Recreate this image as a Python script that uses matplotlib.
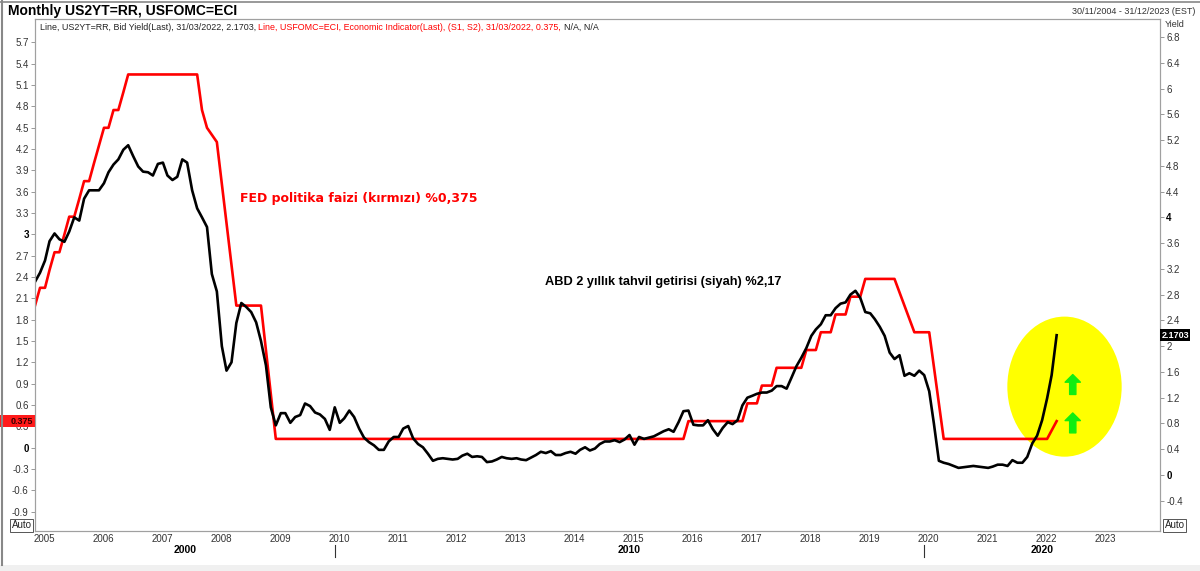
import numpy as np
import pandas as pd
import matplotlib
matplotlib.use("Agg")
import matplotlib.pyplot as plt
from matplotlib.patches import Ellipse, Rectangle
from matplotlib.offsetbox import TextArea, HPacker, AnnotationBbox
import matplotlib.transforms as mtransforms

plt.rcParams["font.family"] = ["Liberation Sans", "DejaVu Sans"]

# US 2Y yield, month-end, Nov 2004 .. Mar 2022 (right axis)
yield_2y = [
    3.00, 3.14, 3.33, 3.63, 3.75, 3.66, 3.62, 3.78, 4.00, 3.95, 4.29, 4.42,
    4.42, 4.42, 4.53, 4.70, 4.82, 4.90, 5.05, 5.12, 4.95, 4.79, 4.71, 4.70,
    4.65, 4.83, 4.85, 4.65, 4.58, 4.63, 4.90, 4.85, 4.42, 4.14, 4.00, 3.85,
    3.12, 2.85, 2.00, 1.62, 1.75, 2.36, 2.67, 2.61, 2.53, 2.37, 2.08, 1.70,
    1.05, 0.77, 0.96, 0.96, 0.81, 0.90, 0.93, 1.11, 1.07, 0.97, 0.94, 0.87,
    0.70, 1.05, 0.81, 0.88, 1.00, 0.90, 0.72, 0.58, 0.51, 0.46, 0.39, 0.39,
    0.52, 0.59, 0.59, 0.72, 0.76, 0.57, 0.48, 0.43, 0.33, 0.22, 0.25, 0.26,
    0.25, 0.24, 0.25, 0.30, 0.33, 0.28, 0.29, 0.28, 0.20, 0.21, 0.24, 0.28,
    0.26, 0.25, 0.26, 0.24, 0.23, 0.27, 0.31, 0.36, 0.34, 0.37, 0.31, 0.31,
    0.34, 0.36, 0.33, 0.39, 0.43, 0.38, 0.41, 0.48, 0.52, 0.52, 0.54, 0.51,
    0.55, 0.62, 0.47, 0.59, 0.56, 0.58, 0.60, 0.64, 0.68, 0.71, 0.67, 0.82,
    0.99, 1.00, 0.78, 0.77, 0.77, 0.85, 0.71, 0.61, 0.73, 0.82, 0.79, 0.85,
    1.08, 1.20, 1.23, 1.26, 1.28, 1.28, 1.31, 1.38, 1.38, 1.34, 1.51, 1.69,
    1.82, 1.97, 2.16, 2.26, 2.34, 2.48, 2.48, 2.59, 2.66, 2.68, 2.80, 2.86,
    2.75, 2.53, 2.51, 2.42, 2.30, 2.16, 1.90, 1.80, 1.86, 1.54, 1.58, 1.54,
    1.62, 1.55, 1.30, 0.80, 0.22, 0.19, 0.17, 0.14, 0.11, 0.12, 0.13, 0.14,
    0.13, 0.12, 0.11, 0.13, 0.16, 0.16, 0.14, 0.23, 0.19, 0.19, 0.28, 0.49,
    0.61, 0.85, 1.19, 1.55, 2.17,
]
yield_months = pd.date_range("2004-11-30", "2022-03-31", freq="ME")

# Fed policy rate (midpoint), turning points by month (left axis)
fed_months = [
    "2004-11", "2004-12", "2005-01", "2005-02", "2005-03", "2005-04", "2005-05",
    "2005-06", "2005-07", "2005-08", "2005-09", "2005-10", "2005-11", "2005-12",
    "2006-01", "2006-02", "2006-03", "2006-04", "2006-05", "2006-06", "2007-08",
    "2007-09", "2007-10", "2007-12", "2008-04", "2008-09", "2008-12", "2015-11",
    "2015-12", "2016-11", "2016-12", "2017-02", "2017-03", "2017-05", "2017-06",
    "2017-11", "2017-12", "2018-02", "2018-03", "2018-05", "2018-06", "2018-08",
    "2018-09", "2018-11", "2018-12", "2019-06", "2019-10", "2020-01", "2020-04",
    "2022-01", "2022-03",
]
fed_rate = [
    2.00, 2.25, 2.25, 2.50, 2.75, 2.75, 3.00,
    3.25, 3.25, 3.50, 3.75, 3.75, 4.00, 4.25,
    4.50, 4.50, 4.75, 4.75, 5.00, 5.25, 5.25,
    4.75, 4.50, 4.30, 2.00, 2.00, 0.125, 0.125,
    0.375, 0.375, 0.625, 0.625, 0.875, 0.875, 1.125,
    1.125, 1.375, 1.375, 1.625, 1.625, 1.875, 1.875,
    2.125, 2.125, 2.375, 2.375, 1.625, 1.625, 0.125,
    0.125, 0.375,
]

year_ticks = list(range(2005, 2024))
decade_labels = ["2000", "2010", "2020"]
decade_centers = [2007.46, 2015.0, 2022.0]
decade_edges = [2010, 2020]

left_ticks = np.round(np.arange(-0.9, 5.71, 0.3), 1)
right_ticks = np.round(np.arange(-0.4, 6.81, 0.4), 1)


def dec_year(d):
    d = pd.DatetimeIndex(d)
    return np.asarray(d.year + d.dayofyear / np.where(d.is_leap_year, 366.0, 365.0))


def fmt(v):
    s = f"{v:g}"
    return "0" if s == "-0" else s


yt = dec_year(yield_months)
ft = dec_year(pd.to_datetime(fed_months) + pd.offsets.MonthEnd(0))

fig = plt.figure(figsize=(12, 5.71), dpi=100)
fig.patch.set_facecolor("white")
ax1 = fig.add_axes([35 / 1200, 40 / 571, 1125 / 1200, 512 / 571])
ax2 = ax1.twinx()

ax1.set_xlim(2004.915, 2024.0)
ax1.set_ylim(-1.17, 6.03)
ax2.set_ylim(-0.87, 7.08)

# highlight
ax1.add_patch(Ellipse((2022.38, 0.86), 1.94, 1.97, facecolor="#ffff00",
                      edgecolor="none", zorder=1))
for y0, y1 in [(0.75, 1.03), (0.21, 0.49)]:
    ax1.annotate("", xy=(2022.52, y1), xytext=(2022.52, y0),
                 arrowprops=dict(arrowstyle="simple,head_length=0.55,head_width=1.1,tail_width=0.45",
                                 color="#11ee11", shrinkA=0, shrinkB=0),
                 zorder=3)

ax1.plot(ft, fed_rate, color="#ff0000", lw=1.9, zorder=2)
ax2.plot(yt, yield_2y, color="black", lw=1.9, zorder=2)

for ax in (ax1, ax2):
    for s in ax.spines.values():
        s.set_color("#a0a0a0")
        s.set_linewidth(0.8)

ax1.set_xticks([y + 0.07 for y in year_ticks])
ax1.set_xticklabels([str(y) for y in year_ticks], fontsize=7, color="#333333")
ax1.tick_params(axis="x", length=0, pad=2)

ax1.set_yticks(left_ticks)
ax1.set_yticklabels([fmt(v) for v in left_ticks], fontsize=7, color="#333333")
ax1.tick_params(axis="y", length=3, width=0.6, color="#888888", pad=1.5)
for lab, v in zip(ax1.get_yticklabels(), left_ticks):
    if v in (0.0, 3.0):
        lab.set_fontweight("bold")
        lab.set_color("black")

ax2.set_yticks(right_ticks)
ax2.set_yticklabels([fmt(v) for v in right_ticks], fontsize=7, color="#333333")
ax2.tick_params(axis="y", length=3, width=0.6, color="#888888", pad=1.5)
for lab, v in zip(ax2.get_yticklabels(), right_ticks):
    if v in (0.0, 4.0):
        lab.set_fontweight("bold")
        lab.set_color("black")

# decade row under the year labels
for lab, c in zip(decade_labels, decade_centers):
    ax1.text(c, -0.037, lab, transform=ax1.get_xaxis_transform(), ha="center",
             va="center", fontsize=7.5, fontweight="bold", clip_on=False)
for e in decade_edges:
    ax1.plot([e, e], [-0.027, -0.051], transform=ax1.get_xaxis_transform(),
             color="#333333", lw=0.8, clip_on=False)

# last value markers (the red box hides the 0.3 label, as in the source chart)
tl = mtransforms.blended_transform_factory(ax1.transAxes, ax1.transData)
ax1.add_patch(Rectangle((-0.031, fed_rate[-1] - 0.085), 0.031, 0.17, transform=tl,
                        facecolor="#ff1a1a", edgecolor="none", clip_on=False, zorder=5))
ax1.text(-0.0015, fed_rate[-1], "0.375", transform=tl, ha="right", va="center",
         fontsize=6.5, fontweight="bold", color="#330000", clip_on=False, zorder=6)
tr = mtransforms.blended_transform_factory(ax2.transAxes, ax2.transData)
ax2.add_patch(Rectangle((1.0, yield_2y[-1] - 0.095), 0.027, 0.19, transform=tr,
                        facecolor="black", edgecolor="none", clip_on=False, zorder=5))
ax2.text(1.0015, yield_2y[-1], "2.1703", transform=tr, ha="left", va="center",
         fontsize=6.5, fontweight="bold", color="white", clip_on=False, zorder=6)

# Auto boxes and axis name
for xf, ha in [(-0.003, "right"), (1.004, "left")]:
    ax1.text(xf, 0.011, "Auto", transform=ax1.transAxes, ha=ha, va="center",
             fontsize=7, color="#222222", clip_on=False,
             bbox=dict(boxstyle="square,pad=0.12", facecolor="white",
                       edgecolor="#555555", lw=0.7))
ax2.text(1.004, 0.99, "Yield", transform=ax2.transAxes, ha="left", va="center",
         fontsize=6.5, color="#333333")

# annotations
ax1.text(0.1822, 0.650, "FED politika faizi (kırmızı) %0,375", transform=ax1.transAxes,
         family="DejaVu Sans", fontsize=9, fontweight="bold", color="#ff0000",
         ha="left", va="center")
ax1.text(0.4533, 0.486, "ABD 2 yıllık tahvil getirisi (siyah) %2,17",
         transform=ax1.transAxes, fontsize=9.2, fontweight="bold", color="black",
         ha="left", va="center")

# series description line
parts = [
    ("Line, US2YT=RR, Bid Yield(Last), 31/03/2022, 2.1703, ", "#222222"),
    ("Line, USFOMC=ECI, Economic Indicator(Last), (S1, S2), 31/03/2022, 0.375, ", "#ff0000"),
    ("N/A, N/A", "#222222"),
]
row = HPacker(children=[TextArea(s, textprops=dict(color=c, fontsize=6.4)) for s, c in parts],
              sep=0, pad=0, align="baseline")
ax1.add_artist(AnnotationBbox(row, (0.004, 0.992), xycoords="axes fraction",
                              box_alignment=(0, 1), frameon=False, zorder=7))

# header
fig.text(8 / 1200, 1 - 11 / 571, "Monthly US2YT=RR, USFOMC=ECI", fontsize=10,
         fontweight="bold", ha="left", va="center")
fig.text(1 - 5 / 1200, 1 - 12 / 571, "30/11/2004 - 31/12/2023 (EST)", fontsize=6.5,
         color="#333333", ha="right", va="center")

# outer frame
fig.patches.append(Rectangle((0, 0), 1, 6 / 571, transform=fig.transFigure,
                             facecolor="#f0f0f0", edgecolor="none"))
fig.lines.append(plt.Line2D([1.5 / 1200, 1.5 / 1200], [6 / 571, 1], transform=fig.transFigure,
                            color="#888888", lw=1.5))
fig.lines.append(plt.Line2D([0, 1], [1 - 1.5 / 571, 1 - 1.5 / 571], transform=fig.transFigure,
                            color="#888888", lw=1.2))

fig.savefig("out.png", dpi=100)
